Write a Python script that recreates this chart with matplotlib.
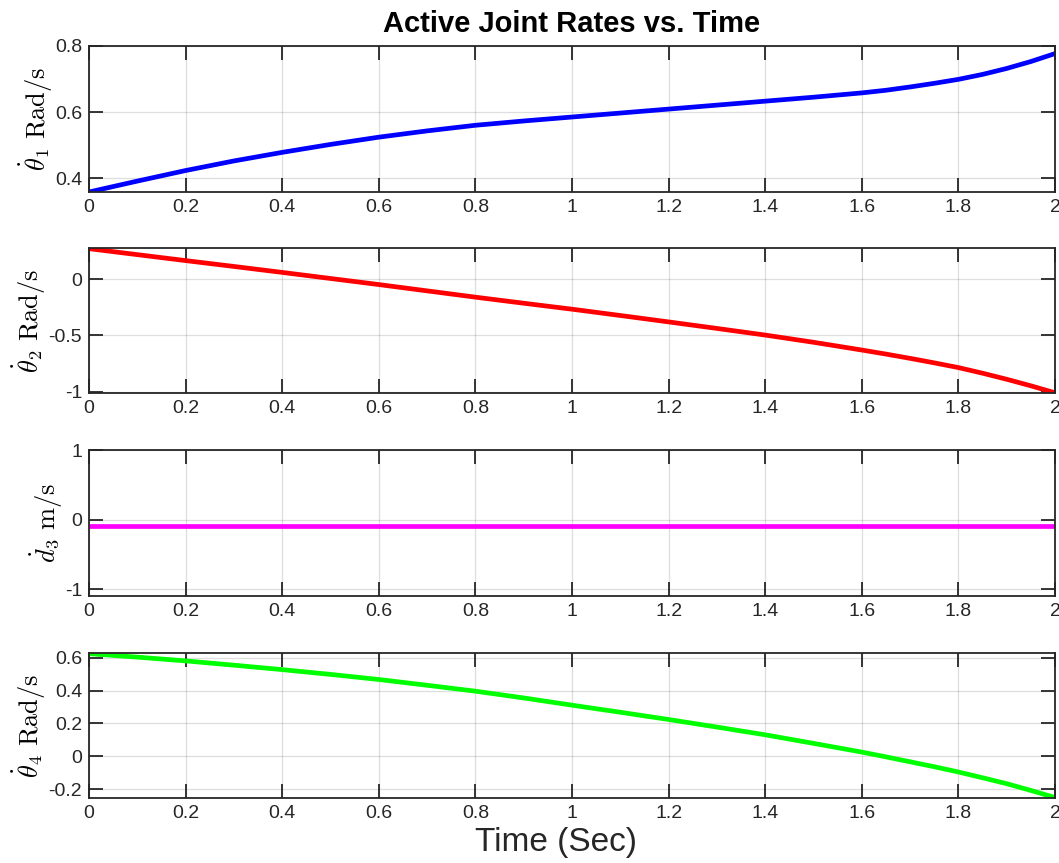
import matplotlib
matplotlib.use("Agg")
import matplotlib.pyplot as plt
from matplotlib.ticker import FormatStrFormatter

plt.rcParams['font.family'] = ['Liberation Sans', 'DejaVu Sans']
plt.rcParams['mathtext.fontset'] = 'cm'
plt.rcParams['axes.unicode_minus'] = False

# time samples (s), denser near the end where the curves bend
t = [0.0, 0.1, 0.2, 0.3, 0.4, 0.5, 0.6, 0.7, 0.8, 0.9, 1.0,
     1.1, 1.2, 1.3, 1.4, 1.5, 1.6, 1.65, 1.7, 1.75, 1.8, 1.85, 1.9, 1.95, 2.0]

theta1_dot = [0.358, 0.391, 0.423, 0.452, 0.478, 0.502, 0.524, 0.543, 0.560, 0.573, 0.585,
              0.597, 0.609, 0.621, 0.633, 0.645, 0.658, 0.666, 0.676, 0.687, 0.699, 0.714,
              0.732, 0.753, 0.777]
theta2_dot = [0.271, 0.218, 0.165, 0.113, 0.060, 0.006, -0.048, -0.104, -0.160, -0.214, -0.267,
              -0.323, -0.380, -0.438, -0.497, -0.561, -0.630, -0.666, -0.704, -0.744, -0.786,
              -0.836, -0.890, -0.948, -1.010]
d3_dot = [-0.1] * len(t)
theta4_dot = [0.624, 0.603, 0.580, 0.554, 0.527, 0.498, 0.467, 0.432, 0.396, 0.355, 0.311,
              0.268, 0.224, 0.178, 0.131, 0.079, 0.026, -0.003, -0.033, -0.063, -0.095,
              -0.130, -0.166, -0.207, -0.250]

series = [theta1_dot, theta2_dot, d3_dot, theta4_dot]
colors = ['#0000ff', '#ff0000', '#ff00ff', '#00ff00']
ylabels = [r'$\dot{\theta}_1\ \mathrm{Rad/s}$', r'$\dot{\theta}_2\ \mathrm{Rad/s}$',
           r'$\dot{d}_3\ \mathrm{m/s}$', r'$\dot{\theta}_4\ \mathrm{Rad/s}$']
ylims = [(0.358, 0.8), (-1.012, 0.277), (-1.1, 1.0), (-0.253, 0.628)]
yticks = [[0.4, 0.6, 0.8], [-1, -0.5, 0], [-1, 0, 1], [-0.2, 0, 0.2, 0.4, 0.6]]
xticks = [0, 0.2, 0.4, 0.6, 0.8, 1.0, 1.2, 1.4, 1.6, 1.8, 2.0]

W, H = 1059, 863
fig = plt.figure(figsize=(W / 100, H / 100), dpi=100)
boxes = [(46, 192), (248, 393), (450, 596), (653, 798)]
dark = '#262626'

for i, (top, bot) in enumerate(boxes):
    ax = fig.add_axes([89 / W, 1 - bot / H, 966 / W, (bot - top) / H])
    ax.plot(t, series[i], color=colors[i], lw=3.4, solid_capstyle='butt',
            solid_joinstyle='round')
    ax.set_xlim(0, 2)
    ax.set_ylim(*ylims[i])
    ax.set_xticks(xticks)
    ax.set_yticks(yticks[i])
    ax.xaxis.set_major_formatter(FormatStrFormatter('%g'))
    ax.yaxis.set_major_formatter(FormatStrFormatter('%g'))
    ax.tick_params(direction='in', length=10, width=1.3, colors=dark,
                   labelsize=14, top=True, right=True, pad=5)
    for s in ax.spines.values():
        s.set_color(dark)
        s.set_linewidth(1.3)
    ax.grid(True, color='#262626', alpha=0.15, lw=0.9)
    ax.set_ylabel(ylabels[i], fontsize=19, labelpad=0)
    if i == 0:
        ax.set_title('Active Joint Rates vs. Time', fontsize=21, fontweight='bold',
                     pad=10)
    if i == 3:
        ax.set_xlabel('Time (Sec)', fontsize=24, color=dark)
        ax.xaxis.set_label_coords(0.483, -0.2)

fig.savefig('out.png', dpi=100)
